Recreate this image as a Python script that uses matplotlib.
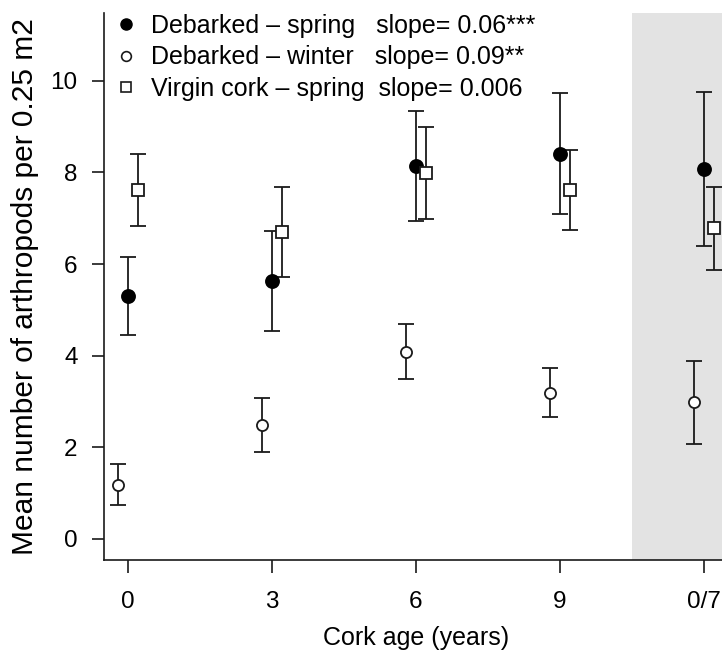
import numpy as np
import matplotlib
matplotlib.use("Agg")
import matplotlib.pyplot as plt
from matplotlib.lines import Line2D

plt.rcParams["font.family"] = ["Liberation Sans", "DejaVu Sans"]

# ---------------------------------------------------------------------
# Data (x positions are cork age; 12 = "0/7")
# ---------------------------------------------------------------------
AGE = np.array([0, 3, 6, 9, 12])
AGE_LABELS = ["0", "3", "6", "9", "0/7"]

# Debarked - spring (filled circles)
spring_mean = np.array([5.31, 5.63, 8.14, 8.41, 8.08])
spring_lo   = np.array([4.46, 4.53, 6.93, 7.10, 6.40])
spring_hi   = np.array([6.16, 6.73, 9.35, 9.73, 9.75])

# Debarked - winter (open circles)
winter_mean = np.array([1.18, 2.48, 4.09, 3.19, 2.99])
winter_lo   = np.array([0.74, 1.90, 3.49, 2.66, 2.08])
winter_hi   = np.array([1.63, 3.07, 4.70, 3.73, 3.89])

# Virgin cork - spring (open squares)
virgin_mean = np.array([7.61, 6.71, 7.98, 7.61, 6.78])
virgin_lo   = np.array([6.83, 5.72, 6.98, 6.75, 5.88])
virgin_hi   = np.array([8.41, 7.69, 8.99, 8.48, 7.68])

LABELS = ["Debarked \u2013 spring   slope= 0.06***",
          "Debarked \u2013 winter   slope= 0.09**",
          "Virgin cork \u2013 spring  slope= 0.006"]

W, H = 722, 652
fig = plt.figure(figsize=(W / 100, H / 100), dpi=100)
ax = fig.add_axes([104 / W, (H - 560) / H, (728 - 104) / W, (560 - 13) / H])

ax.axvspan(10.5, 13, color="#e3e3e3", zorder=0, lw=0)

ekw = dict(ls="none", ecolor="#1a1a1a", elinewidth=1.3, capsize=6, capthick=1.3, zorder=3)


def draw(xs, mean, lo, hi, **mk):
    err = np.vstack([mean - lo, hi - mean])
    ax.errorbar(xs, mean, yerr=err, **ekw)
    ax.plot(xs, mean, ls="none", zorder=4, **mk)


draw(AGE, spring_mean, spring_lo, spring_hi,
     marker="o", ms=9.5, mfc="black", mec="black", mew=1.2)
draw(AGE - 0.2, winter_mean, winter_lo, winter_hi,
     marker="o", ms=8, mfc="white", mec="#1a1a1a", mew=1.3)
draw(AGE + 0.2, virgin_mean, virgin_lo, virgin_hi,
     marker="s", ms=8, mfc="white", mec="#1a1a1a", mew=1.3)

ax.set_xlim(-0.5, 12.5)
ax.set_ylim(-0.46, 11.48)
ax.set_xticks(AGE)
ax.set_xticklabels(AGE_LABELS)
ax.set_yticks([0, 2, 4, 6, 8, 10])

for s in ["top", "right"]:
    ax.spines[s].set_visible(False)
for s in ["left", "bottom"]:
    ax.spines[s].set_linewidth(1.2)
    ax.spines[s].set_color("#1a1a1a")

ax.tick_params(axis="both", length=9, width=1.2, color="#1a1a1a", labelsize=17.5)
ax.tick_params(axis="x", pad=13)
ax.tick_params(axis="y", pad=10)

ax.set_xlabel("Cork age (years)", fontsize=18, labelpad=10)
ax.set_ylabel("Mean number of arthropods per 0.25 m2", fontsize=21.5, labelpad=8)

handles = [
    Line2D([], [], ls="none", marker="o", ms=8, mfc="black", mec="black"),
    Line2D([], [], ls="none", marker="o", ms=7, mfc="white", mec="#1a1a1a", mew=1.2),
    Line2D([], [], ls="none", marker="s", ms=6.5, mfc="white", mec="#1a1a1a", mew=1.2),
]
ax.legend(handles, LABELS, loc="upper left", bbox_to_anchor=(101 / W, 1 - 1 / H),
          bbox_transform=fig.transFigure, frameon=False, fontsize=18,
          handlelength=1.0, handletextpad=0.5, labelspacing=0.31, borderpad=0.0)

fig.savefig("out.png", dpi=100)
